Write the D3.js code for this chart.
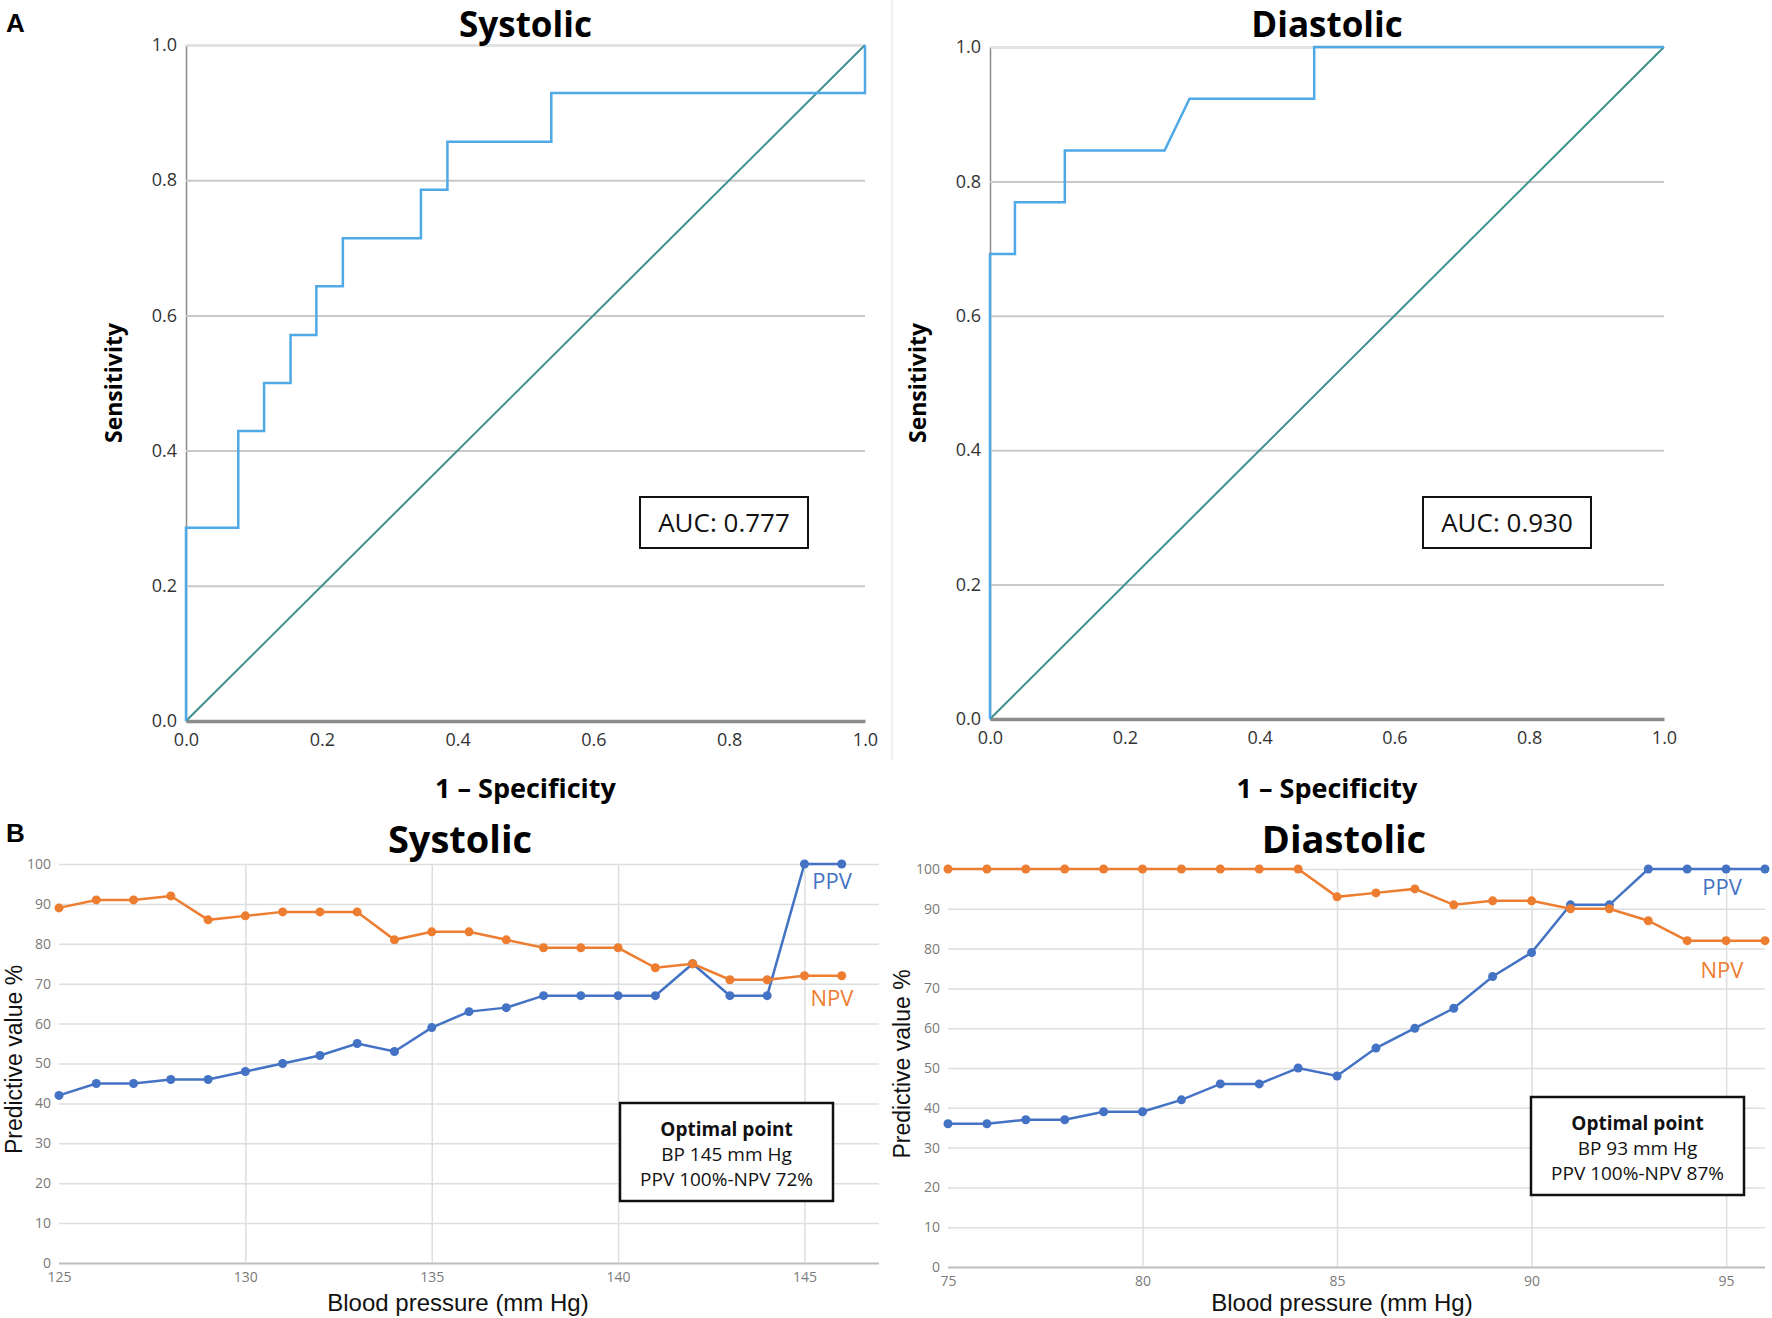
<!DOCTYPE html>
<html>
<head>
<meta charset="utf-8">
<script src="https://cdn.jsdelivr.net/npm/d3@7"></script>
<style>
  body { margin: 0; background: #fff; }
</style>
</head>
<body>
<div id="fig"></div>
<script>
// ---- panel A : ROC curves ----
const rocTicks = [0, 0.2, 0.4, 0.6, 0.8, 1.0];

const sysFpr = [0, 0, 0.077, 0.077, 0.115, 0.115, 0.154, 0.154, 0.192, 0.192, 0.231, 0.231, 0.346, 0.346, 0.385, 0.385, 0.538, 0.538, 1.0, 1.0];
const sysTpr = [0, 0.286, 0.286, 0.429, 0.429, 0.5, 0.5, 0.571, 0.571, 0.643, 0.643, 0.714, 0.714, 0.786, 0.786, 0.857, 0.857, 0.929, 0.929, 1.0];

const diaFpr = [0, 0, 0.037, 0.037, 0.111, 0.111, 0.259, 0.296, 0.481, 0.481, 1.0];
const diaTpr = [0, 0.692, 0.692, 0.769, 0.769, 0.846, 0.846, 0.923, 0.923, 1.0, 1.0];

// ---- panel B : predictive values ----
const sysBp  = [125, 126, 127, 128, 129, 130, 131, 132, 133, 134, 135, 136, 137, 138, 139, 140, 141, 142, 143, 144, 145, 146];
const sysPpv = [42, 45, 45, 46, 46, 48, 50, 52, 55, 53, 59, 63, 64, 67, 67, 67, 67, 75, 67, 67, 100, 100];
const sysNpv = [89, 91, 91, 92, 86, 87, 88, 88, 88, 81, 83, 83, 81, 79, 79, 79, 74, 75, 71, 71, 72, 72];
const sysXTicks = [125, 130, 135, 140, 145];

const diaBp  = [75, 76, 77, 78, 79, 80, 81, 82, 83, 84, 85, 86, 87, 88, 89, 90, 91, 92, 93, 94, 95, 96];
const diaPpv = [36, 36, 37, 37, 39, 39, 42, 46, 46, 50, 48, 55, 60, 65, 73, 79, 91, 91, 100, 100, 100, 100];
const diaNpv = [100, 100, 100, 100, 100, 100, 100, 100, 100, 100, 93, 94, 95, 91, 92, 92, 90, 90, 87, 82, 82, 82];
const diaXTicks = [75, 80, 85, 90, 95];

const pvYTicks = [0, 10, 20, 30, 40, 50, 60, 70, 80, 90, 100];

const narrow = "'Open Sans', sans-serif";
const arial = "'Liberation Sans', Arial, sans-serif";

const svg = d3.select("#fig")
  .append("svg")
    .attr("width", 1772)
    .attr("height", 1318);

//panel letters
svg.append("text").text("A").attr("x", 6).attr("y", 32)
  .attr("font-family", arial).attr("font-weight", "bold").attr("font-size", 26);
svg.append("text").text("B").attr("x", 6).attr("y", 842)
  .attr("font-family", arial).attr("font-weight", "bold").attr("font-size", 26);

//faint divider between the two ROC plots
svg.append("line").attr("x1", 892).attr("x2", 892).attr("y1", 0).attr("y2", 760)
  .attr("stroke", "#ececec").attr("stroke-width", 1.5);

function drawRoc(p) {
  const x = d3.scaleLinear().domain([0, 1]).range([p.left, p.right]);
  const y = d3.scaleLinear().domain([0, 1]).range([p.bottom, p.top]);
  const g = svg.append("g");

  //horizontal grid + y labels
  g.append("g")
    .attr("transform", `translate(${p.left},0)`)
    .call(d3.axisLeft(y).tickValues(rocTicks).tickSize(-(p.right - p.left)).tickPadding(9).tickFormat(d3.format(".1f")))
    .call(a => a.select(".domain").attr("stroke", "#8a8a8a").attr("stroke-width", 1.5))
    .call(a => a.selectAll(".tick line").attr("stroke", d => d === 1 ? "#e2e2e2" : "#c8c8c8").attr("stroke-width", 2))
    .call(a => a.selectAll(".tick text").attr("font-family", narrow).attr("font-size", 18).attr("fill", "#333"));

  //x axis
  g.append("g")
    .attr("transform", `translate(0,${p.bottom})`)
    .call(d3.axisBottom(x).tickValues(rocTicks).tickSize(0).tickPadding(12).tickFormat(d3.format(".1f")))
    .call(a => a.select(".domain").attr("stroke", "#8c8c8c").attr("stroke-width", 3.5))
    .call(a => a.selectAll(".tick text").attr("font-family", narrow).attr("font-size", 18).attr("fill", "#333"));

  //reference diagonal
  g.append("line")
    .attr("x1", x(0)).attr("y1", y(0)).attr("x2", x(1)).attr("y2", y(1))
    .attr("stroke", "#3d918b").attr("stroke-width", 2);

  //roc curve
  const pts = p.fpr.map((f, i) => [f, p.tpr[i]]);
  g.append("path")
    .datum(pts)
    .attr("fill", "none")
    .attr("stroke", "#4ea9e6")
    .attr("stroke-width", 2.5)
    .attr("d", d3.line().x(d => x(d[0])).y(d => y(d[1])));

  //titles
  g.append("text").text(p.title)
    .attr("x", (p.left + p.right) / 2).attr("y", 37)
    .attr("text-anchor", "middle")
    .attr("font-family", narrow).attr("font-weight", "bold").attr("font-size", 35);
  g.append("text").text("Sensitivity")
    .attr("transform", `translate(${p.left - 64},${(p.top + p.bottom) / 2}) rotate(-90)`)
    .attr("text-anchor", "middle")
    .attr("font-family", narrow).attr("font-weight", "bold").attr("font-size", 23);
  g.append("text").text("1 – Specificity")
    .attr("x", (p.left + p.right) / 2).attr("y", 798)
    .attr("text-anchor", "middle")
    .attr("font-family", narrow).attr("font-weight", "bold").attr("font-size", 27);

  //auc box
  g.append("rect")
    .attr("x", p.box[0]).attr("y", 497).attr("width", 168).attr("height", 51)
    .attr("fill", "#fff").attr("stroke", "#111").attr("stroke-width", 2);
  g.append("text").text(p.auc)
    .attr("x", p.box[0] + 84).attr("y", 532)
    .attr("text-anchor", "middle")
    .attr("font-family", narrow).attr("font-size", 26).attr("fill", "#111");
}

drawRoc({title: "Systolic", fpr: sysFpr, tpr: sysTpr, auc: "AUC: 0.777",
  left: 186, right: 865, top: 45, bottom: 721, box: [640]});
drawRoc({title: "Diastolic", fpr: diaFpr, tpr: diaTpr, auc: "AUC: 0.930",
  left: 990, right: 1664, top: 47, bottom: 719, box: [1423]});

function drawPv(p) {
  const x = d3.scaleLinear().domain(p.xDomain).range([p.left, p.right]);
  const y = d3.scaleLinear().domain([0, 100]).range([p.bottom, p.top]);
  const g = svg.append("g");

  //horizontal grid
  g.append("g")
    .attr("transform", `translate(${p.left},0)`)
    .call(d3.axisLeft(y).tickValues(pvYTicks).tickSize(-(p.right - p.left)).tickPadding(p.yPad))
    .call(a => a.select(".domain").remove())
    .call(a => a.selectAll(".tick line").attr("stroke", d => d === 0 ? "#bdbdbd" : "#dedede").attr("stroke-width", d => d === 0 ? 2 : 1.5))
    .call(a => a.selectAll(".tick text").attr("font-family", narrow).attr("font-size", 14).attr("fill", "#7a7a7a"));

  //vertical grid + x labels
  g.append("g")
    .attr("transform", `translate(0,${p.bottom})`)
    .call(d3.axisBottom(x).tickValues(p.xTicks).tickSize(-(p.bottom - p.top)).tickPadding(9))
    .call(a => a.select(".domain").remove())
    .call(a => a.selectAll(".tick line").attr("stroke", d => d === p.xDomain[0] ? "none" : "#dedede").attr("stroke-width", 1.5))
    .call(a => a.selectAll(".tick text").attr("font-family", narrow).attr("font-size", 14).attr("fill", "#7a7a7a"));

  const series = [
    {vals: p.ppv, color: "#4472c4"},
    {vals: p.npv, color: "#ed7d31"}
  ];
  series.forEach(s => {
    const pts = p.bp.map((b, i) => [b, s.vals[i]]);
    g.append("path")
      .datum(pts)
      .attr("fill", "none")
      .attr("stroke", s.color)
      .attr("stroke-width", 2.5)
      .attr("d", d3.line().x(d => x(d[0])).y(d => y(d[1])));
    g.selectAll(null)
      .data(pts)
      .join("circle")
        .attr("cx", d => x(d[0]))
        .attr("cy", d => y(d[1]))
        .attr("r", 4.5)
        .attr("fill", s.color);
  });

  //series labels
  g.append("text").text("PPV").attr("x", p.lab[0]).attr("y", p.lab[1])
    .attr("text-anchor", "middle").attr("font-family", narrow).attr("font-size", 22).attr("fill", "#4472c4");
  g.append("text").text("NPV").attr("x", p.lab[0]).attr("y", p.lab[2])
    .attr("text-anchor", "middle").attr("font-family", narrow).attr("font-size", 22).attr("fill", "#ed7d31");

  //titles
  g.append("text").text(p.title)
    .attr("x", p.titleX).attr("y", 853)
    .attr("text-anchor", "middle")
    .attr("font-family", narrow).attr("font-weight", "bold").attr("font-size", 38);
  g.append("text").text("Blood pressure (mm Hg)")
    .attr("x", p.titleX - 2).attr("y", 1311)
    .attr("text-anchor", "middle")
    .attr("font-family", arial).attr("font-size", 24).attr("fill", "#111");
  g.append("text").text("Predictive value %")
    .attr("transform", `translate(${p.yTitleX},${(p.top + p.bottom) / 2 - 4}) rotate(-90)`)
    .attr("text-anchor", "middle")
    .attr("font-family", arial).attr("font-size", 23).attr("fill", "#111");

  //optimal point box
  const bx = p.box[0], by = p.box[1], bw = 213, bh = 98;
  g.append("rect").attr("x", bx).attr("y", by).attr("width", bw).attr("height", bh)
    .attr("fill", "#fff").attr("stroke", "#111").attr("stroke-width", 2.5);
  p.boxLines.forEach((t, i) => {
    g.append("text").text(t)
      .attr("x", bx + bw / 2).attr("y", by + 33 + i * 25)
      .attr("text-anchor", "middle")
      .attr("font-family", narrow).attr("font-size", 19)
      .attr("font-weight", i === 0 ? "bold" : "normal")
      .attr("fill", "#111");
  });
}

drawPv({title: "Systolic", bp: sysBp, ppv: sysPpv, npv: sysNpv, xTicks: sysXTicks,
  xDomain: [125, 147], left: 59, right: 879, top: 864, bottom: 1263, yPad: 8,
  titleX: 460, yTitleX: 22, lab: [832, 889, 1006], box: [620, 1103],
  boxLines: ["Optimal point", "BP 145 mm Hg", "PPV 100%-NPV 72%"]});
drawPv({title: "Diastolic", bp: diaBp, ppv: diaPpv, npv: diaNpv, xTicks: diaXTicks,
  xDomain: [75, 96], left: 948, right: 1765, top: 869, bottom: 1267, yPad: 8,
  titleX: 1344, yTitleX: 910, lab: [1722, 895, 978], box: [1531, 1097],
  boxLines: ["Optimal point", "BP 93 mm Hg", "PPV 100%-NPV 87%"]});
</script>
</body>
</html>
